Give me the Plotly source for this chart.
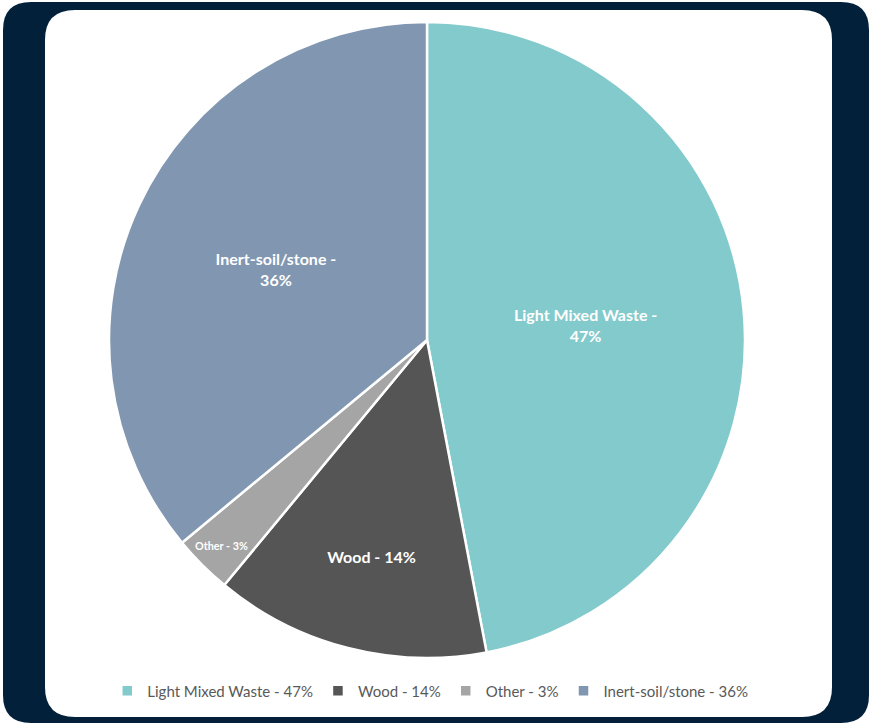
import plotly.graph_objects as go

W, H = 871, 725

categories = ["Light Mixed Waste", "Wood", "Other", "Inert-soil/stone"]
values = [47, 14, 3, 36]
colors = ["#83CACC", "#555555", "#A5A5A5", "#8196B1"]

labels = [f"{c} - {v}%" for c, v in zip(categories, values)]
slice_text = ["Light Mixed Waste -<br>47%", "Wood - 14%", "Other - 3%", "Inert-soil/stone -<br>36%"]
text_sizes = [16, 16, 12, 16]


def rrect(x0, y0, x1, y1, r):
    # pixel coords (y down) -> paper coords path
    def px(x):
        return x / W

    def py(y):
        return 1 - y / H
    p = []
    p.append(f"M {px(x0 + r)},{py(y0)}")
    p.append(f"L {px(x1 - r)},{py(y0)}")
    p.append(f"Q {px(x1)},{py(y0)} {px(x1)},{py(y0 + r)}")
    p.append(f"L {px(x1)},{py(y1 - r)}")
    p.append(f"Q {px(x1)},{py(y1)} {px(x1 - r)},{py(y1)}")
    p.append(f"L {px(x0 + r)},{py(y1)}")
    p.append(f"Q {px(x0)},{py(y1)} {px(x0)},{py(y1 - r)}")
    p.append(f"L {px(x0)},{py(y0 + r)}")
    p.append(f"Q {px(x0)},{py(y0)} {px(x0 + r)},{py(y0)}")
    p.append("Z")
    return " ".join(p)


fig = go.Figure()
fig.add_trace(go.Pie(
    labels=labels,
    values=values,
    text=slice_text,
    textinfo="text",
    textposition="inside",
    insidetextorientation="horizontal",
    textfont=dict(family="Lato", size=text_sizes, color="white", weight="bold"),
    marker=dict(colors=colors, line=dict(color="white", width=2.5)),
    sort=False,
    direction="clockwise",
    rotation=0,
    domain=dict(x=[109 / W, 745 / W], y=[1 - 658 / H, 1 - 22 / H]),
    hoverinfo="label",
))

fig.update_layout(
    width=W, height=H,
    margin=dict(l=0, r=0, t=0, b=0),
    paper_bgcolor="white",
    plot_bgcolor="white",
    showlegend=True,
    legend=dict(
        orientation="h",
        x=0.494, xanchor="center",
        y=1 - 691 / H, yanchor="middle",
        font=dict(family="Lato", size=15, color="#595959"),
        itemwidth=30,
        traceorder="normal",
    ),
    shapes=[
        dict(type="path", xref="paper", yref="paper", layer="below",
             path=rrect(3, 2, 869, 723, 28), fillcolor="#02203A", line=dict(width=0)),
        dict(type="path", xref="paper", yref="paper", layer="below",
             path=rrect(45, 10, 832, 717, 30), fillcolor="white", line=dict(width=0)),
    ],
)

fig.write_html(
    "out.html",
    config={"displayModeBar": False},
    post_script="document.body.style.margin='0';document.body.style.overflow='hidden';",
)
